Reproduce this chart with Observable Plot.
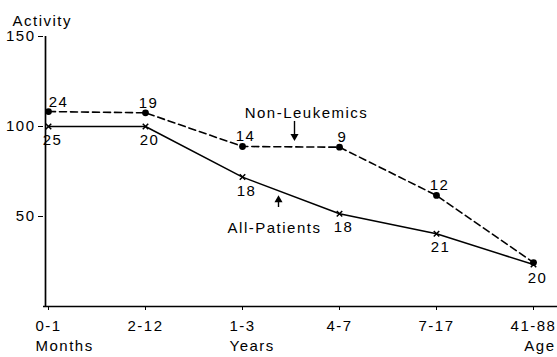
<!DOCTYPE html>
<html><head><meta charset="utf-8">
<script src="https://cdn.jsdelivr.net/npm/d3@7"></script>
<script src="https://cdn.jsdelivr.net/npm/@observablehq/plot@0.6"></script>
<style>body{margin:0;background:#fff}</style>
</head><body><div id="chart"></div>
<script>
// Age groups (x categories)
const ages = ["0-1", "2-12", "1-3", "4-7", "7-17", "41-88"];
// Unit labels written under the tick labels
const unitStart = [{age: "0-1", unit: "Months"}, {age: "1-3", unit: "Years"}];
const unitEnd = [{age: "41-88", unit: "Age"}];
// Series values (Activity)
const allPatients = [100, 100, 71.9, 51.5, 40.4, 23.3];
const nonLeukemics = [108.3, 107.6, 88.9, 88.5, 61.7, 24.4];
// Number of cases printed next to each point
const nAll = [25, 20, 18, 18, 21, 20];
const nNonLeuk = [24, 19, 14, 9, 12, null];
// Y tick values
const yTicks = [50, 100, 150];
// Series annotations (label, anchor category, label value, arrow from/to values)
const seriesLabels = [
  {name: "Non-Leukemics", age: "1-3", text: 105, from: 102.8, to: 94.6, rot: 180},
  {name: "All-Patients", age: "1-3", text: 40.6, from: 55, to: 59.2, rot: 0}
];

const all = ages.map((a, i) => ({age: a, v: allPatients[i], n: nAll[i]}));
const nl = ages.map((a, i) => ({age: a, v: nonLeukemics[i], n: nNonLeuk[i]}));

const ink = "#000";
const chart = Plot.plot({
  width: 557,
  height: 357,
  marginLeft: 43,
  marginRight: 0,
  marginTop: 36,
  marginBottom: 51,
  style: {fontFamily: "'Liberation Sans', Arial, sans-serif", fontSize: "15px", letterSpacing: "1.5px", color: ink, background: "#fff"},
  x: {type: "point", domain: ages, padding: 0, insetLeft: 3, insetRight: 23, tickSize: 4, tickPadding: 10, label: null},
  y: {domain: [0, 150], ticks: yTicks, tickSize: 5, tickPadding: 3, label: null},
  marks: [
    Plot.ruleY([0], {stroke: ink, strokeWidth: 1.7}),
    Plot.ruleX(["0-1"], {y1: 0, y2: 150, dx: -3, stroke: ink, strokeWidth: 1.7}),
    Plot.line(nl, {x: "age", y: "v", stroke: ink, strokeWidth: 1.6, strokeDasharray: "7,4"}),
    Plot.line(all, {x: "age", y: "v", stroke: ink, strokeWidth: 1.5}),
    Plot.dot(nl, {x: "age", y: "v", r: 3.4, fill: ink, stroke: "none"}),
    Plot.dot(all, {x: "age", y: "v", symbol: "times", r: 2.6, stroke: ink, strokeWidth: 1.5}),
    // case counts
    Plot.text(nl, {filter: d => d.n != null && d.age === "0-1", x: "age", y: "v", text: "n", dx: 10, dy: -5, lineAnchor: "bottom", fill: ink}),
    Plot.text(nl, {filter: d => d.n != null && d.age !== "0-1", x: "age", y: "v", text: "n", dx: 3, dy: -5, lineAnchor: "bottom", fill: ink}),
    Plot.text(all, {x: "age", y: "v", text: "n", dx: 4, dy: 8, lineAnchor: "top", fill: ink}),
    // series annotations with arrows
    Plot.text(seriesLabels.slice(0, 1), {x: "age", y: "text", text: "name", dx: 64, lineAnchor: "bottom", fill: ink}),
    Plot.text(seriesLabels.slice(1), {x: "age", y: "text", text: "name", dx: 32, lineAnchor: "bottom", fill: ink}),
    Plot.ruleX(seriesLabels.slice(0, 1), {x: "age", y1: "from", y2: "to", dx: 52, stroke: ink, strokeWidth: 1.4}),
    Plot.ruleX(seriesLabels.slice(1), {x: "age", y1: "from", y2: "to", dx: 36, stroke: ink, strokeWidth: 1.4}),
    Plot.dot(seriesLabels.slice(0, 1), {x: "age", y: "to", dx: 52, symbol: "triangle", r: 3, rotate: "rot", fill: ink, stroke: "none"}),
    Plot.dot(seriesLabels.slice(1), {x: "age", y: "to", dx: 36, symbol: "triangle", r: 3, rotate: "rot", fill: ink, stroke: "none"}),
    // second-line unit labels
    Plot.text(unitStart, {x: "age", text: "unit", frameAnchor: "bottom", dy: 44, dx: -13, lineAnchor: "bottom", textAnchor: "start", fill: ink}),
    Plot.text(unitEnd, {x: "age", text: "unit", frameAnchor: "bottom", dy: 44, dx: 22, lineAnchor: "bottom", textAnchor: "end", fill: ink}),
    // y axis title
    Plot.text(["Activity"], {frameAnchor: "top-left", dx: -31, dy: -11, lineAnchor: "bottom", textAnchor: "start", fill: ink})
  ]
});
document.getElementById("chart").appendChild(chart);
</script>
</body></html>
